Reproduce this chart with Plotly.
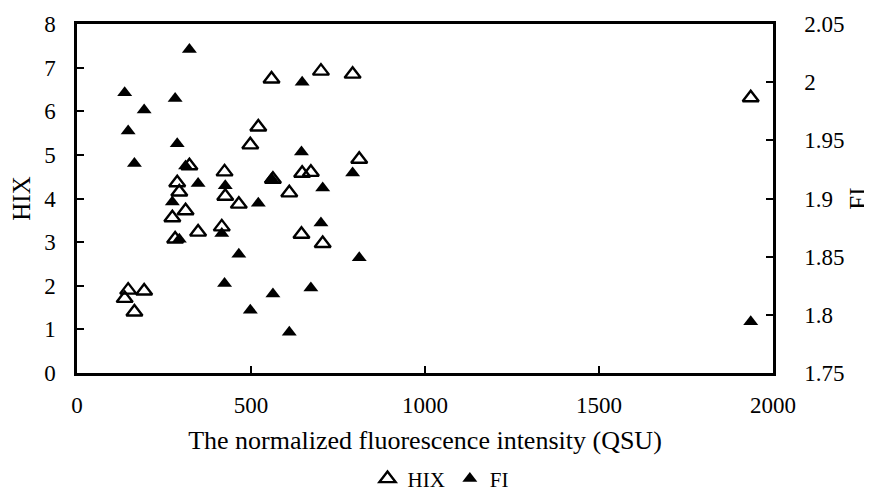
import plotly.graph_objects as go

# Normalized fluorescence intensity (QSU) per sample
qsu = [137, 147, 165, 193, 274, 282, 288, 294, 312, 323, 348, 416, 424, 426,
       465, 498, 521, 559, 563, 610, 645, 647, 672, 701, 706, 792, 811, 1936]
# HIX (left axis)
hix = [1.71, 1.90, 1.40, 1.88, 3.56, 3.07, 4.36, 4.15, 3.72, 4.75, 3.23, 3.35, 4.61, 4.05,
       3.87, 5.23, 5.64, 6.74, 4.44, 4.13, 3.18, 4.58, 4.60, 6.92, 2.97, 6.85, 4.90, 6.31]
# FI (right axis), listed by the same QSU order
fi_qsu = [137, 147, 165, 193, 274, 282, 288, 294, 312, 323, 348, 416, 424, 426,
          465, 498, 521, 559, 563, 610, 645, 647, 672, 701, 706, 792, 811, 1936]
fi = [1.991, 1.958, 1.930, 1.976, 1.897, 1.986, 1.947, 1.865, 1.928, 2.028, 1.913, 1.870, 1.827, 1.911,
      1.852, 1.804, 1.896, 1.917, 1.818, 1.785, 1.940, 2.000, 1.823, 1.879, 1.909, 1.922, 1.849, 1.794]

FONT = "Liberation Serif, Times New Roman, serif"

fig = go.Figure()
fig.add_trace(go.Scatter(
    x=qsu, y=hix, mode="markers", name="HIX",
    marker=dict(symbol="triangle-up-open", size=14, color="black",
                line=dict(width=2.4, color="black")),
))
fig.add_trace(go.Scatter(
    x=fi_qsu, y=fi, mode="markers", name="FI", yaxis="y2",
    marker=dict(symbol="triangle-up", size=13, color="black",
                line=dict(width=0)),
))

axis_common = dict(
    showline=True, linecolor="black", linewidth=2.5,
    ticks="inside", ticklen=7, tickwidth=2, tickcolor="black",
    showgrid=False, zeroline=False, automargin=False,
    tickfont=dict(family=FONT, size=23, color="black"),
)

fig.update_layout(
    width=864, height=484,
    margin=dict(l=69, r=99, t=16, b=119),
    paper_bgcolor="white", plot_bgcolor="white",
    font=dict(family=FONT, size=23, color="black"),
    xaxis=dict(
        range=[0, 2000], tickvals=[0, 500, 1000, 1500, 2000],
        mirror=True, ticklabelstandoff=10,
        title=dict(text="The normalized fluorescence intensity (QSU)",
                   font=dict(family=FONT, size=26), standoff=14),
        **axis_common,
    ),
    yaxis=dict(
        range=[0, 8], tickvals=list(range(0, 9)),
        ticklabelstandoff=14,
        title=dict(text="HIX", font=dict(family=FONT, size=25), standoff=9),
        **axis_common,
    ),
    yaxis2=dict(
        range=[1.75, 2.05], tickvals=[1.75, 1.8, 1.85, 1.9, 1.95, 2.0, 2.05],
        ticktext=["1.75", "1.8", "1.85", "1.9", "1.95", "2", "2.05"],
        overlaying="y", side="right", ticklabelstandoff=24,
        title=dict(text="FI", font=dict(family=FONT, size=25), standoff=8),
        **axis_common,
    ),
    legend=dict(
        orientation="h", xref="paper", x=0.523, xanchor="center",
        yref="container", y=0.027, yanchor="middle",
        font=dict(family=FONT, size=21), itemwidth=30,
        bgcolor="rgba(0,0,0,0)", traceorder="normal",
    ),
    showlegend=True,
)

fig.write_html("out.html")
